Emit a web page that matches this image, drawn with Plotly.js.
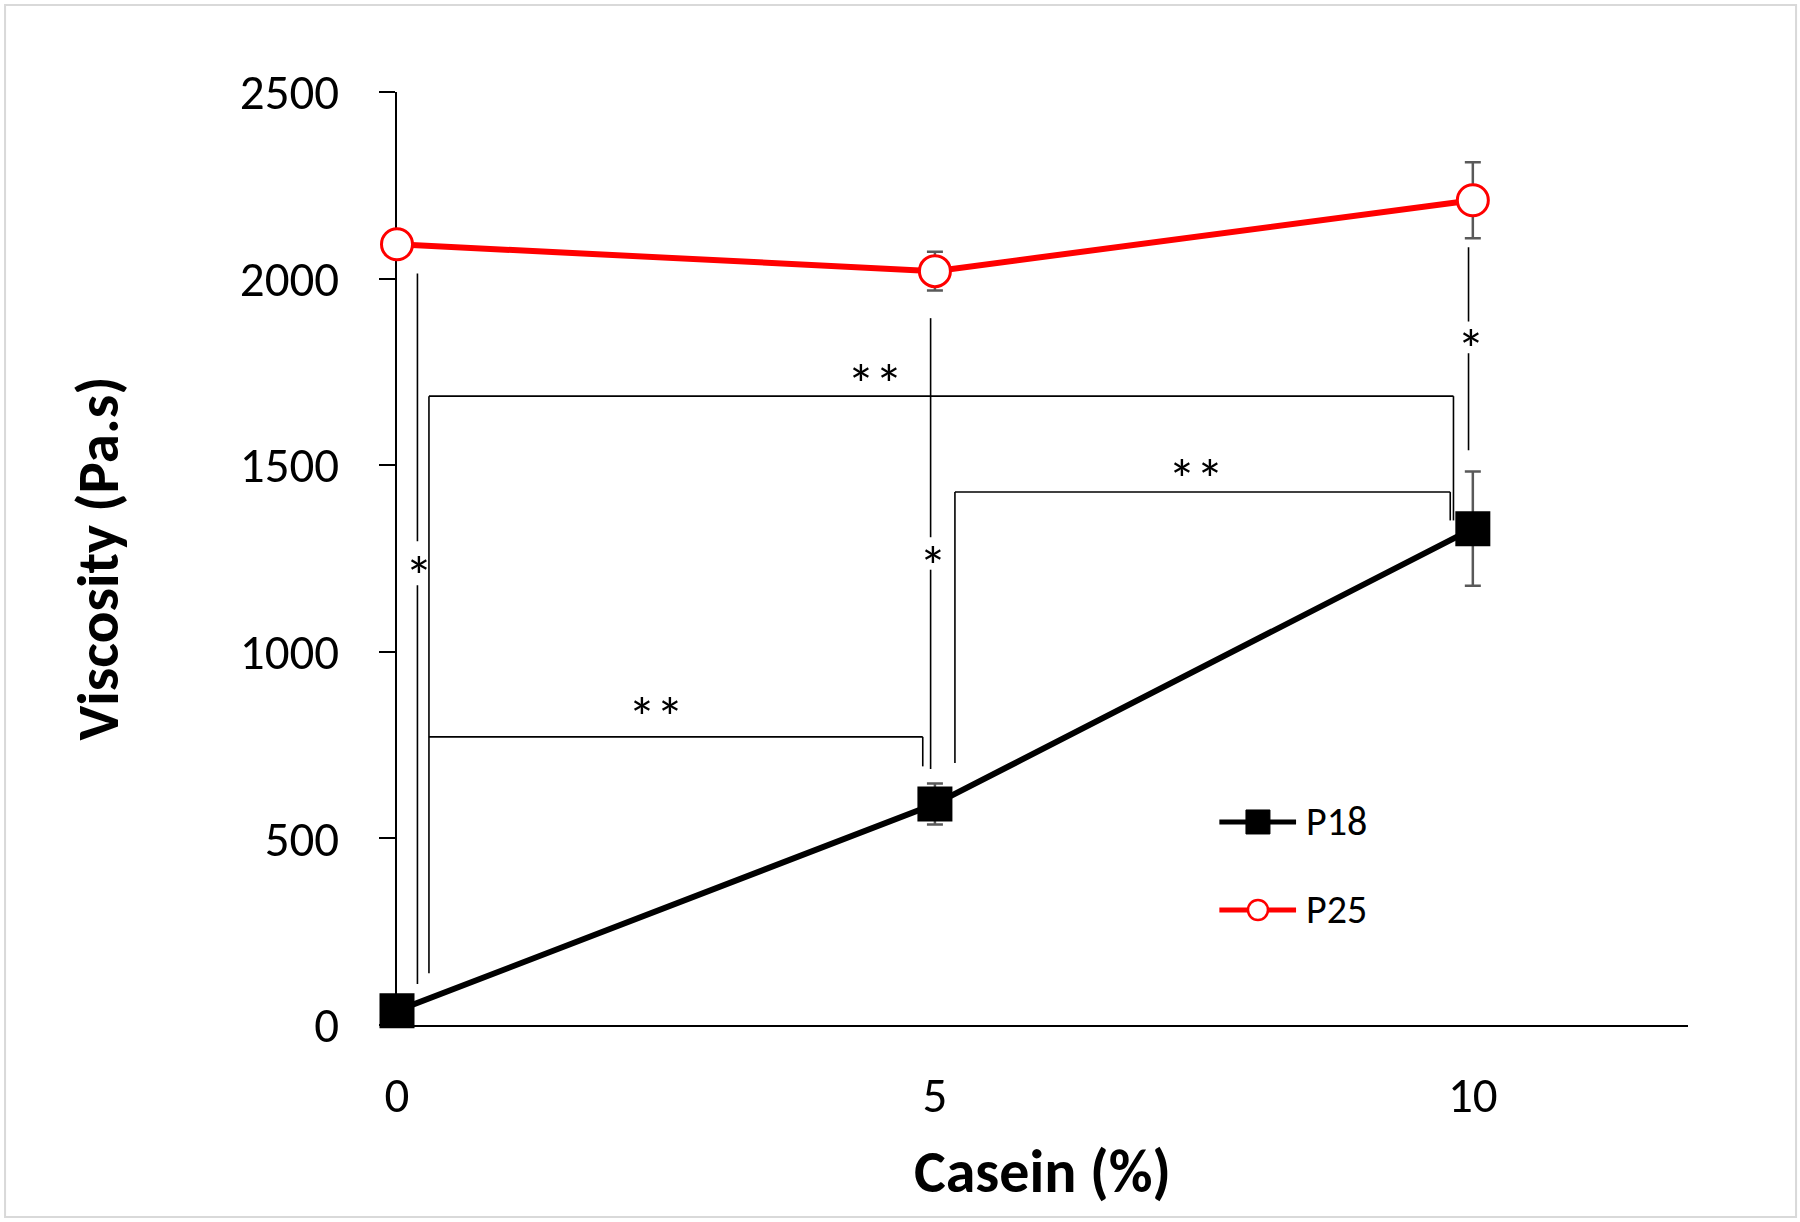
<!DOCTYPE html>
<html><head><meta charset="utf-8">
<script src="https://cdn.plot.ly/plotly-3.0.1.min.js"></script>
<style>html,body{margin:0;padding:0;background:#fff}#chart{width:1800px;height:1222px}</style>
</head><body><div id="chart"></div>
<script>
// ---- data ----
const casein = [0, 5, 10];
const p18 = [38, 592, 1330];
const p18Err = [10, 55, 153];
const p25 = [2092, 2020, 2210];
const p25Err = [20, 52, 102];
const seriesNames = ['P18', 'P25'];
const xTickVals = [0, 5, 10];
const yTickVals = [0, 500, 1000, 1500, 2000, 2500];

// significance bracket segments (data units): x0, y0, x1, y1
const bracketX0 = [0.19, 0.19, 0.297, 0.297, 9.82, 5.186, 5.186, 9.79, 0.297, 4.887, 4.96, 4.96, 9.96, 9.96];
const bracketY0 = [2014, 1178, 139, 1685, 1685, 702, 1428, 1428, 772, 772, 1894, 1220, 2084, 1800];
const bracketX1 = [0.19, 0.19, 0.297, 9.82, 9.82, 5.186, 9.79, 9.79, 4.887, 4.887, 4.96, 4.96, 9.96, 9.96];
const bracketY1 = [1296, 110, 1685, 1685, 1352, 1428, 1428, 1352, 772, 693, 1307, 686, 1885, 1540];
const sigLabels = ['*', '**', '**', '**', '*', '*'];
const sigX = [0.2, 4.44, 7.43, 2.41, 4.98, 9.98];
const sigY = [1232, 1746, 1492, 854, 1259, 1840];

// ---- styling ----
const FONT = 'Carlito, Lato, "Liberation Sans", sans-serif';
const errColor = '#595959';

const traces = [
  {
    x: casein, y: p18, name: seriesNames[0], type: 'scatter', mode: 'lines+markers',
    line: {color: '#000000', width: 6},
    marker: {symbol: 'square', size: 33, color: '#000000', line: {color: '#000000', width: 2}},
    error_y: {type: 'data', array: p18Err, visible: true, color: errColor, thickness: 2.5, width: 8},
    cliponaxis: false, showlegend: false
  },
  {
    x: casein, y: p25, name: seriesNames[1], type: 'scatter', mode: 'lines+markers',
    line: {color: '#ff0000', width: 6},
    marker: {symbol: 'circle', size: 31, color: '#ffffff', line: {color: '#ff0000', width: 3}},
    error_y: {type: 'data', array: p25Err, visible: true, color: errColor, thickness: 2.5, width: 8},
    cliponaxis: false, showlegend: false
  }
];

const shapes = [];
for (let i = 0; i < bracketX0.length; i++) {
  shapes.push({type: 'line', xref: 'x', yref: 'y', x0: bracketX0[i], y0: bracketY0[i], x1: bracketX1[i], y1: bracketY1[i],
    line: {color: '#000000', width: 1.6}});
}
// outer frame
shapes.push({type: 'rect', xref: 'paper', yref: 'paper', x0: -0.3036, x1: 1.0837, y0: -0.2058, y1: 1.0932,
  line: {color: '#d9d9d9', width: 2}, fillcolor: 'rgba(0,0,0,0)'});

// custom legend (long line samples as in the original)
const legY = [0.2176, 0.1233];
const legColors = ['#000000', '#ff0000'];
shapes.push({type: 'line', xref: 'paper', yref: 'paper', x0: 0.637, x1: 0.6964, y0: legY[0], y1: legY[0], line: {color: legColors[0], width: 5}});
shapes.push({type: 'line', xref: 'paper', yref: 'paper', x0: 0.637, x1: 0.6964, y0: legY[1], y1: legY[1], line: {color: legColors[1], width: 5}});
shapes.push({type: 'rect', xref: 'paper', yref: 'paper', xsizemode: 'pixel', ysizemode: 'pixel',
  xanchor: 0.6669, yanchor: legY[0], x0: -12, x1: 12, y0: -12, y1: 12,
  fillcolor: '#000000', line: {color: '#000000', width: 1}});
shapes.push({type: 'circle', xref: 'paper', yref: 'paper', xsizemode: 'pixel', ysizemode: 'pixel',
  xanchor: 0.6669, yanchor: legY[1], x0: -10, x1: 10, y0: -10, y1: 10,
  fillcolor: '#ffffff', line: {color: '#ff0000', width: 2.5}});

const annotations = [];
for (let i = 0; i < sigLabels.length; i++) {
  annotations.push({x: sigX[i], y: sigY[i], xref: 'x', yref: 'y', text: sigLabels[i], showarrow: false,
    font: {family: FONT, size: 56, color: '#000000'}, xanchor: 'center', yanchor: 'middle', yshift: -12});
}
for (let i = 0; i < seriesNames.length; i++) {
  annotations.push({x: 0.7026, y: legY[i], xref: 'paper', yref: 'paper', text: seriesNames[i], showarrow: false,
    font: {family: FONT, size: 40, color: '#000000'}, xanchor: 'left', yanchor: 'middle'});
}

const layout = {
  width: 1800, height: 1222,
  margin: {l: 397, r: 112, t: 92, b: 197, pad: 0},
  paper_bgcolor: '#ffffff', plot_bgcolor: '#ffffff',
  showlegend: false,
  font: {family: FONT, color: '#000000'},
  xaxis: {
    range: [0, 12], tickvals: xTickVals, ticktext: xTickVals.map(String),
    showline: true, linecolor: '#000000', linewidth: 2, ticks: '', showgrid: false, zeroline: false,
    tickfont: {family: FONT, size: 49, color: '#000000'}, ticklabelstandoff: 26,
    layer: 'below traces',
    title: {text: 'Casein (%)', font: {family: FONT, size: 60, color: '#000000', weight: 'bold'}, standoff: 26}
  },
  yaxis: {
    range: [0, 2500], tickvals: yTickVals, ticktext: yTickVals.map(String),
    showline: true, linecolor: '#000000', linewidth: 2, ticks: 'outside', ticklen: 16, tickwidth: 2, tickcolor: '#000000',
    showgrid: false, zeroline: false,
    tickfont: {family: FONT, size: 49, color: '#000000'}, ticklabelstandoff: 30,
    layer: 'below traces',
    title: {text: 'Viscosity (Pa.s)', font: {family: FONT, size: 59, color: '#000000', weight: 'bold'}, standoff: 102}
  },
  shapes: shapes,
  annotations: annotations
};

Plotly.newPlot('chart', traces, layout, {displayModeBar: false, staticPlot: true});
</script>
</body></html>
